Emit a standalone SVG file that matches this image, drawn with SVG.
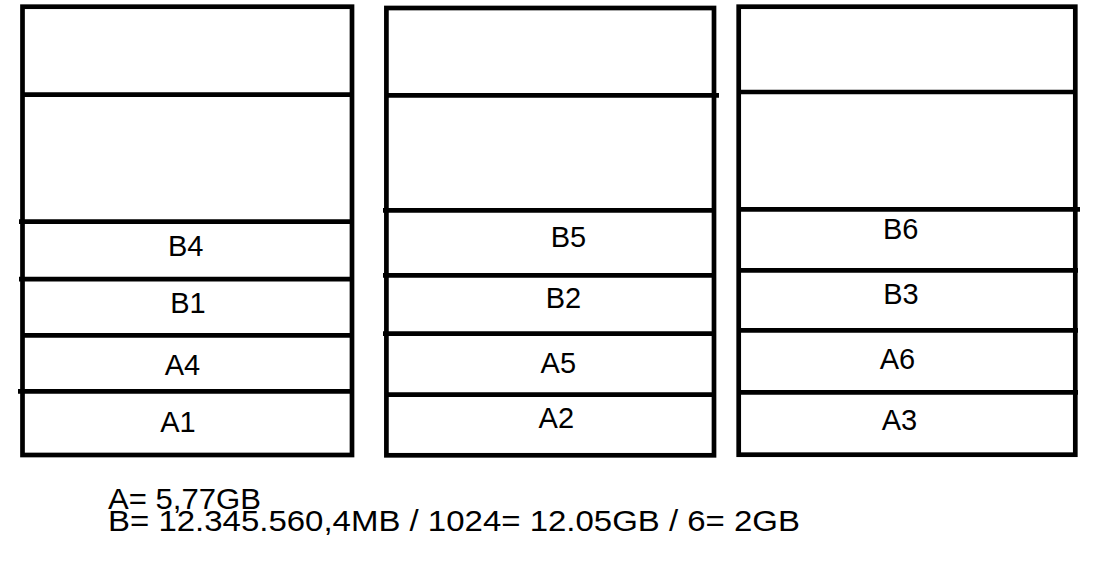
<svg xmlns="http://www.w3.org/2000/svg" width="1093" height="570" viewBox="0 0 1093 570">
  <style>
    .frame { fill: none; stroke: #000; stroke-width: 4.7; }
    .div { stroke: #000; stroke-width: 4.7; stroke-linecap: butt; }
    .lbl { font-family: "Liberation Sans", Arial, sans-serif; font-size: 29px; fill: #000; text-anchor: middle; }
    .note { font-family: "Liberation Sans", Arial, sans-serif; font-size: 30px; fill: #000; }
  </style>
  <rect width="1093" height="570" fill="#fff"/>

  <g id="column1">
    <rect class="frame" x="22.5" y="6.7" width="329.5" height="448.3"/>
    <line class="div" x1="22" y1="94.7" x2="352" y2="94.7"/>
    <g id="cell-B4">
      <line class="div" x1="19" y1="221.7" x2="352" y2="221.7"/>
      <text class="lbl" x="185.7" y="256">B4</text>
    </g>
    <g id="cell-B1">
      <line class="div" x1="19" y1="279.2" x2="352" y2="279.2"/>
      <text class="lbl" x="188" y="313.3">B1</text>
    </g>
    <g id="cell-A4">
      <line class="div" x1="22" y1="335.3" x2="352" y2="335.3"/>
      <text class="lbl" x="182.5" y="375">A4</text>
    </g>
    <g id="cell-A1">
      <line class="div" x1="18" y1="391.3" x2="352" y2="391.3"/>
      <text class="lbl" x="178" y="431.7">A1</text>
    </g>
  </g>

  <g id="column2">
    <rect class="frame" x="386.4" y="8" width="327.6" height="447.3"/>
    <line class="div" x1="386" y1="95.3" x2="719" y2="95.3"/>
    <g id="cell-B5">
      <line class="div" x1="383" y1="210.3" x2="714" y2="210.3"/>
      <text class="lbl" x="568.5" y="247.3">B5</text>
    </g>
    <g id="cell-B2">
      <line class="div" x1="383" y1="275.3" x2="714" y2="275.3"/>
      <text class="lbl" x="563.5" y="308.3">B2</text>
    </g>
    <g id="cell-A5">
      <line class="div" x1="383" y1="333.7" x2="714" y2="333.7"/>
      <text class="lbl" x="558.3" y="372.7">A5</text>
    </g>
    <g id="cell-A2">
      <line class="div" x1="386" y1="394.7" x2="714" y2="394.7"/>
      <text class="lbl" x="556.3" y="428.3">A2</text>
    </g>
  </g>

  <g id="column3">
    <rect class="frame" x="738.7" y="6.7" width="336.6" height="448"/>
    <line class="div" x1="739" y1="92" x2="1075" y2="92"/>
    <g id="cell-B6">
      <line class="div" x1="739" y1="209.3" x2="1080" y2="209.3"/>
      <text class="lbl" x="900.7" y="239.3">B6</text>
    </g>
    <g id="cell-B3">
      <line class="div" x1="739" y1="270.3" x2="1078" y2="270.3"/>
      <text class="lbl" x="901" y="304.3">B3</text>
    </g>
    <g id="cell-A6">
      <line class="div" x1="739" y1="330.3" x2="1078" y2="330.3"/>
      <text class="lbl" x="897.5" y="369.3">A6</text>
    </g>
    <g id="cell-A3">
      <line class="div" x1="739" y1="392.3" x2="1078" y2="392.3"/>
      <text class="lbl" x="899.5" y="430">A3</text>
    </g>
  </g>

  <g id="connectors"/>

  <g id="notes">
    <text class="note" x="108" y="508.5" textLength="153" lengthAdjust="spacingAndGlyphs">A= 5,77GB</text>
    <text class="note" x="108" y="531" textLength="692" lengthAdjust="spacingAndGlyphs">B= 12.345.560,4MB / 1024= 12.05GB / 6= 2GB</text>
  </g>
</svg>
